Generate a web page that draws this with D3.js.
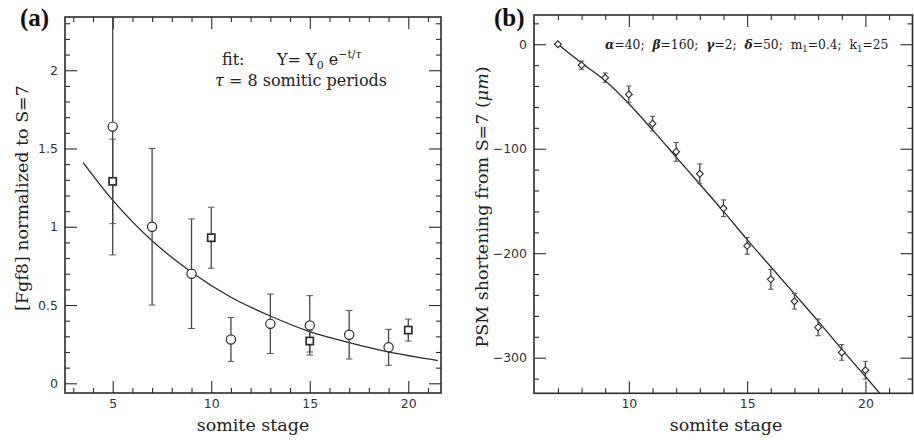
<!DOCTYPE html>
<html>
<head>
<meta charset="utf-8">
<script src="https://cdn.jsdelivr.net/npm/d3@7"></script>
<style>
  html, body { margin: 0; padding: 0; background: #fff; }
  svg { display: block; }
  text { white-space: pre; }
</style>
</head>
<body>
<svg id="chart" width="914" height="440"></svg>
<script>
// ---------- Panel (a) data ----------
const circleStages = [5, 7, 9, 11, 13, 15, 17, 19];
const circleValues = [1.64, 1.00, 0.70, 0.28, 0.38, 0.37, 0.31, 0.23];
const circleErrors = [0.82, 0.50, 0.35, 0.14, 0.19, 0.19, 0.155, 0.115];

const squareStages = [5, 10, 15, 20];
const squareValues = [1.29, 0.93, 0.27, 0.34];
const squareErrors = [0.27, 0.195, 0.07, 0.07];

const fitStages = [3.5, 5, 7, 9, 11, 13, 15, 17, 19, 21.5];
const fitValues = [1.41, 1.17, 0.91, 0.71, 0.55, 0.43, 0.33, 0.26, 0.20, 0.145];

const aXMajor = [5, 10, 15, 20];
const aXMinor = [3, 4, 6, 7, 8, 9, 11, 12, 13, 14, 16, 17, 18, 19, 21];
const aYMajor = [0, 0.5, 1, 1.5, 2];
const aYMajorLabels = ["0", "0.5", "1", "1.5", "2"];
const aYMinor = [0.1, 0.2, 0.3, 0.4, 0.6, 0.7, 0.8, 0.9, 1.1, 1.2, 1.3, 1.4, 1.6, 1.7, 1.8, 1.9, 2.1, 2.2, 2.3];

// ---------- Panel (b) data ----------
const psmStages = [7, 8, 9, 10, 11, 12, 13, 14, 15, 16, 17, 18, 19, 20];
const psmValues = [0, -20, -32, -48, -76, -103, -124, -157, -193, -225, -246, -271, -295, -312];
const psmErrors = [0, 4, 4.5, 8, 7, 9, 9.5, 8, 8, 9.5, 7.5, 8, 7.5, 8.5];

const modelStages = [7, 8, 9, 10, 11, 12, 13, 14, 15, 16, 17, 18, 19, 20, 20.6];
const modelValues = [0, -18, -35, -57, -82, -108, -134, -160, -187, -213, -239, -265, -292, -318, -334];

const bXMajor = [10, 15, 20];
const bXMinor = [7, 8, 9, 11, 12, 13, 14, 16, 17, 18, 19, 21];
const bYMajor = [0, -100, -200, -300];
const bYMajorLabels = ["0", "\u2212100", "\u2212200", "\u2212300"];
const bYMinor = [20, -20, -40, -60, -80, -120, -140, -160, -180, -220, -240, -260, -280, -320];

// ---------- Layout ----------
const ink = "#2b2b2b";
const svg = d3.select("#chart");

const A = { left: 65, right: 441, top: 17, bottom: 393 };
const B = { left: 534, right: 912.5, top: 15, bottom: 393.3 };

const xA = d3.scaleLinear().domain([2.58, 21.66]).range([A.left, A.right]);
const yA = d3.scaleLinear().domain([-0.062, 2.34]).range([A.bottom, A.top]);
const xB = d3.scaleLinear().domain([5.99, 21.99]).range([B.left, B.right]);
const yB = d3.scaleLinear().domain([-334.1, 28.0]).range([B.bottom, B.top]);

function drawFrame(P, x, y, xMaj, xMin, yMaj, yMajLab, yMin, id) {
  const g = svg.append("g");
  const major = 12, minor = 5;
  const styleAxis = sel => {
    sel.select(".domain").remove();
    sel.selectAll(".tick line").attr("stroke", ink).attr("stroke-width", 1.1);
    sel.selectAll(".tick text").attr("fill", "#333")
      .attr("font-family", "'DejaVu Sans', sans-serif").attr("font-size", 12.5);
  };
  // bottom
  g.append("g").attr("transform", `translate(0,${P.bottom})`)
    .call(d3.axisBottom(x).tickValues(xMaj).tickSize(-major).tickPadding(6).tickFormat(d3.format("d")))
    .call(styleAxis);
  g.append("g").attr("transform", `translate(0,${P.bottom})`)
    .call(d3.axisBottom(x).tickValues(xMin).tickSize(-minor).tickFormat(""))
    .call(styleAxis);
  // top
  g.append("g").attr("transform", `translate(0,${P.top})`)
    .call(d3.axisTop(x).tickValues(xMaj).tickSize(-major).tickFormat(""))
    .call(styleAxis);
  g.append("g").attr("transform", `translate(0,${P.top})`)
    .call(d3.axisTop(x).tickValues(xMin).tickSize(-minor).tickFormat(""))
    .call(styleAxis);
  // left
  g.append("g").attr("transform", `translate(${P.left},0)`)
    .call(d3.axisLeft(y).tickValues(yMaj).tickSize(-major).tickPadding(7)
      .tickFormat((d, i) => yMajLab[i]))
    .call(styleAxis);
  g.append("g").attr("transform", `translate(${P.left},0)`)
    .call(d3.axisLeft(y).tickValues(yMin).tickSize(-minor).tickFormat(""))
    .call(styleAxis);
  // right
  g.append("g").attr("transform", `translate(${P.right},0)`)
    .call(d3.axisRight(y).tickValues(yMaj).tickSize(-major).tickFormat(""))
    .call(styleAxis);
  g.append("g").attr("transform", `translate(${P.right},0)`)
    .call(d3.axisRight(y).tickValues(yMin).tickSize(-minor).tickFormat(""))
    .call(styleAxis);
  // frame
  g.append("rect").attr("x", P.left).attr("y", P.top)
    .attr("width", P.right - P.left).attr("height", P.bottom - P.top)
    .attr("fill", "none").attr("stroke", ink).attr("stroke-width", 1.6);
  // clip
  svg.append("clipPath").attr("id", id).append("rect")
    .attr("x", P.left).attr("y", P.top)
    .attr("width", P.right - P.left).attr("height", P.bottom - P.top);
}

drawFrame(A, xA, yA, aXMajor, aXMinor, aYMajor, aYMajorLabels, aYMinor, "clipA");
drawFrame(B, xB, yB, bXMajor, bXMinor, bYMajor, bYMajorLabels, bYMinor, "clipB");

// ---------- Panel (a) marks ----------
const gA = svg.append("g").attr("clip-path", "url(#clipA)");

const fitLine = d3.line().x((d, i) => xA(fitStages[i])).y(d => yA(d)).curve(d3.curveMonotoneX);
gA.append("path").datum(fitValues).attr("d", fitLine)
  .attr("fill", "none").attr("stroke", ink).attr("stroke-width", 1.3);

function errorBars(g, xs, vs, es, x, y, cap, sw) {
  xs.forEach((s, i) => {
    if (!es[i]) return;
    const cx = x(s), y0 = y(vs[i] - es[i]), y1 = y(vs[i] + es[i]);
    g.append("line").attr("x1", cx).attr("x2", cx).attr("y1", y0).attr("y2", y1)
      .attr("stroke", "#444").attr("stroke-width", sw);
    [y0, y1].forEach(yy => g.append("line").attr("x1", cx - cap).attr("x2", cx + cap)
      .attr("y1", yy).attr("y2", yy).attr("stroke", "#555").attr("stroke-width", 1));
  });
}
errorBars(gA, circleStages, circleValues, circleErrors, xA, yA, 3.3, 1.3);
errorBars(gA, squareStages, squareValues, squareErrors, xA, yA, 3.3, 1.3);

gA.selectAll("circle.pt").data(circleValues).enter().append("circle")
  .attr("cx", (d, i) => xA(circleStages[i])).attr("cy", d => yA(d)).attr("r", 4.6)
  .attr("fill", "#fff").attr("stroke", ink).attr("stroke-width", 1.2);

gA.selectAll("rect.pt").data(squareValues).enter().append("rect")
  .attr("x", (d, i) => xA(squareStages[i]) - 3.6).attr("y", d => yA(d) - 3.6)
  .attr("width", 7.2).attr("height", 7.2)
  .attr("fill", "#fff").attr("stroke", ink).attr("stroke-width", 1.7);

// ---------- Panel (b) marks ----------
const gB = svg.append("g").attr("clip-path", "url(#clipB)");

const modelLine = d3.line().x((d, i) => xB(modelStages[i])).y(d => yB(d)).curve(d3.curveMonotoneX);
gB.append("path").datum(modelValues).attr("d", modelLine)
  .attr("fill", "none").attr("stroke", ink).attr("stroke-width", 1.3);

errorBars(gB, psmStages, psmValues, psmErrors, xB, yB, 2.6, 1.3);

gB.selectAll("path.pt").data(psmValues).enter().append("path")
  .attr("transform", (d, i) => `translate(${xB(psmStages[i])},${yB(d)})`)
  .attr("d", "M0,-3.4L3.4,0L0,3.4L-3.4,0Z")
  .attr("fill", "#fff").attr("stroke", ink).attr("stroke-width", 1.1);

// ---------- Text ----------
const serif = "'DejaVu Serif', serif";

svg.append("text").attr("x", 20).attr("y", 26)
  .attr("font-family", "'Liberation Serif', serif").attr("font-weight", "bold")
  .attr("font-size", 25).attr("fill", "#111").text("(a)");
svg.append("text").attr("x", 494).attr("y", 26)
  .attr("font-family", "'Liberation Serif', serif").attr("font-weight", "bold")
  .attr("font-size", 25).attr("fill", "#111").text("(b)");

// axis titles
svg.append("text").attr("x", (A.left + A.right) / 2).attr("y", 431)
  .attr("text-anchor", "middle").attr("font-family", serif).attr("font-size", 17.5)
  .attr("fill", "#222").text("somite stage");
svg.append("text").attr("x", 726).attr("y", 431)
  .attr("text-anchor", "middle").attr("font-family", serif).attr("font-size", 17.5)
  .attr("fill", "#222").text("somite stage");

svg.append("text").attr("transform", "translate(28,198) rotate(-90)")
  .attr("text-anchor", "middle").attr("font-family", serif).attr("font-size", 17.5)
  .attr("fill", "#222").text("[Fgf8] normalized to S=7");

const yLabB = svg.append("text").attr("transform", "translate(488,207) rotate(-90)")
  .attr("text-anchor", "middle").attr("font-family", serif).attr("font-size", 17.5)
  .attr("fill", "#222");
yLabB.append("tspan").text("PSM shortening from S=7 (");
yLabB.append("tspan").attr("font-style", "italic").text("\u03bcm");
yLabB.append("tspan").text(")");

// annotation (a)
svg.append("text").attr("x", 222).attr("y", 65)
  .attr("font-family", serif).attr("font-size", 16).attr("fill", "#222").text("fit:");
const fitTxt = svg.append("text").attr("x", 277).attr("y", 65)
  .attr("font-family", serif).attr("font-size", 16).attr("fill", "#222");
fitTxt.append("tspan").text("Y= Y");
fitTxt.append("tspan").attr("font-size", 11).attr("dy", 4).text("0");
fitTxt.append("tspan").attr("dy", -4).text(" e");
fitTxt.append("tspan").attr("font-size", 11).attr("dy", -7).text("\u2212t/");
fitTxt.append("tspan").attr("font-size", 11).attr("font-style", "italic").text("\u03c4");
svg.append("text").attr("x", 215).attr("y", 86)
  .attr("font-family", serif).attr("font-size", 16).attr("fill", "#222")
  .call(t => {
    t.append("tspan").attr("font-style", "italic").text("\u03c4");
    t.append("tspan").text(" = 8 somitic periods");
  });

// annotation (b)
const par = svg.append("text").attr("x", 605).attr("y", 49)
  .attr("font-family", serif).attr("font-size", 12.3).attr("fill", "#222");
const parts = [
  ["\u03b1", "=40;  "], ["\u03b2", "=160;  "], ["\u03b3", "=2;  "], ["\u03b4", "=50;  m"]
];
parts.forEach(([g, rest]) => {
  par.append("tspan").attr("font-weight", "bold").attr("font-style", "italic").text(g);
  par.append("tspan").text(rest);
});
par.append("tspan").attr("font-size", 8.5).attr("dy", 3).text("1");
par.append("tspan").attr("dy", -3).text("=0.4;  k");
par.append("tspan").attr("font-size", 8.5).attr("dy", 3).text("1");
par.append("tspan").attr("dy", -3).text("=25");
</script>
</body>
</html>
